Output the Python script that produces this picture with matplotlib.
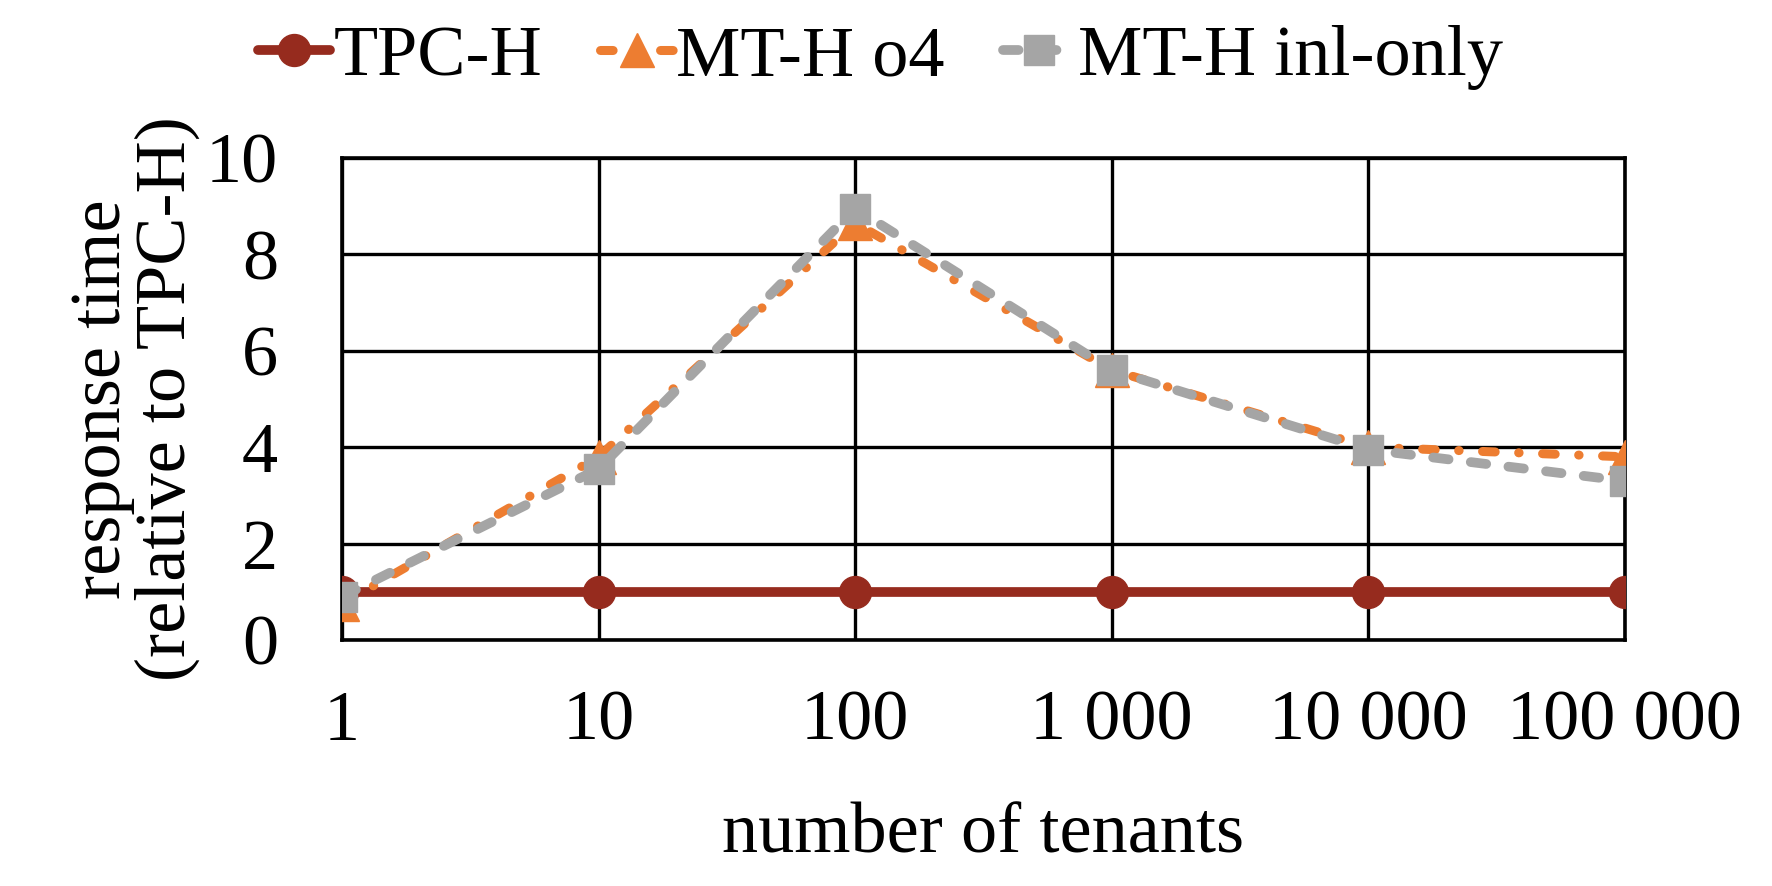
import matplotlib

matplotlib.use("Agg")
import matplotlib.pyplot as plt

plt.rcParams["font.family"] = ["Liberation Serif", "DejaVu Serif"]

tenants = ["1", "10", "100", "1 000", "10 000", "100 000"]
tpch = [1.0, 1.0, 1.0, 1.0, 1.0, 1.0]
mth_o4 = [0.75, 3.8, 8.65, 5.6, 4.0, 3.8]
mth_inl = [0.9, 3.55, 8.95, 5.6, 3.95, 3.3]

RED = "#962B1E"
ORANGE = "#ED7D31"
GRAY = "#A5A5A5"
FS = 52

fig = plt.figure(figsize=(17.72, 8.86), dpi=100)
ax = fig.add_axes([0.193, 0.2777, 0.724, 0.5440])

x = list(range(len(tenants)))
ax.plot(x, tpch, color=RED, lw=7, marker="o", ms=23, label="TPC-H",
        solid_capstyle="round", zorder=3)
ax.plot(x, mth_o4, color=ORANGE, lw=6.5, marker="^", ms=24, label="MT-H o4",
        dashes=(1.4, 2.6, 0.05, 2.6), dash_capstyle="round", zorder=4)
ax.plot(x, mth_inl, color=GRAY, lw=7, marker="s", ms=22, label="MT-H inl-only",
        dashes=(1.6, 2.3), dash_capstyle="round", zorder=5)

ax.set_xlim(0, 5)
ax.set_ylim(0, 10)
ax.set_xticks(x)
ax.set_xticklabels(tenants)
ax.set_yticks(range(0, 11, 2))
ax.grid(True, color="black", lw=2.4)
ax.set_axisbelow(True)
for spine in ax.spines.values():
    spine.set_linewidth(2.6)
    spine.set_color("black")
ax.tick_params(axis="both", length=0, labelsize=FS)
ax.tick_params(axis="x", pad=36)
ax.tick_params(axis="y", pad=46)

ax.set_xlabel("number of tenants", fontsize=FS, labelpad=34)
ax.set_ylabel("response time\n(relative to TPC-H)", fontsize=FS,
              labelpad=4, linespacing=1.0)

fig.legend(loc="center", bbox_to_anchor=(0.497, 0.935), ncol=3,
           fontsize=FS, frameon=False, handlelength=1.0, handletextpad=0.05,
           columnspacing=0.8, borderaxespad=0)

fig.savefig("out.png", dpi=100)
plt.close(fig)
